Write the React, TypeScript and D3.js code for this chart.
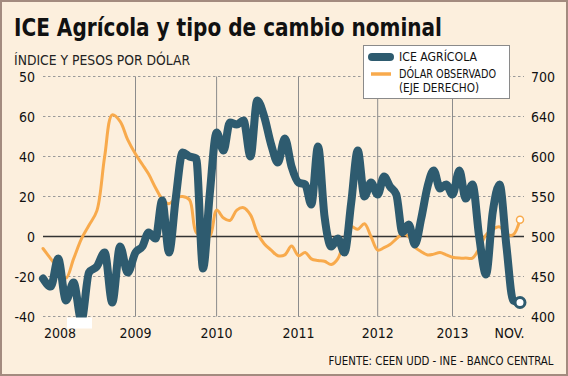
import React from "react";
import * as d3 from "d3";

const W = 568;
const H = 376;

// Monthly series, Jan 2008 .. Nov 2013
const startMonth = new Date(2008, 0, 1);
const iceValues = [
  -21, -25, -11, -32, -23, -42, -18, -15, -8, -33, -5, -18,
  -8, -5, 2, -1, 18, -8, 19, 42, 40, 39, -16, 21,
  52, 43, 57, 56, 58, 40, 68, 60, 46, 37, 49, 35,
  27, 26, 16, 45, 10, -5, -1, -8, 17, 43, 20, 27,
  21, 30, 25, 21, 2, 6, -4, 9, 25, 33, 24, 26,
  21, 33, 19, 26, 0, -19, 12, 26, -5, -32, -33,
];
const dollarValues = [
  485, 472, 460, 448, 472, 497, 514, 532, 600, 652, 644, 621,
  603, 590, 578, 561, 547, 541, 548, 550, 546, 505, 500, 500,
  533, 523, 520, 533, 536, 527, 505, 491, 483, 476, 477, 488,
  476, 480, 472, 470, 469, 465, 472, 495, 512, 509, 516, 500,
  483, 486, 490, 497, 503, 500, 487, 481, 477, 478, 480, 477,
  474, 473, 473, 473, 485, 502, 509, 512, 503, 502, 521,
];

const leftTicks = [-40, -20, 0, 20, 40, 60, 80];
const leftTickLabels = ["-40", "-20", "0", "20", "40", "60", "50"];
const rightTicks = [400, 450, 500, 550, 600, 650, 700];
const rightTickLabels = ["400", "450", "500", "550", "600", "640", "700"];
const yearLineDates = [2009, 2010, 2011, 2012, 2013].map((y) => new Date(y, 0, 1));
const xTickLabels = ["2008", "2009", "2010", "2011", "2012", "2013", "NOV."];
const xTickDates = [
  new Date(2008, 2, 8),
  new Date(2009, 0, 1),
  new Date(2010, 0, 1),
  new Date(2011, 0, 1),
  new Date(2012, 0, 1),
  new Date(2013, 0, 1),
  new Date(2013, 8, 15),
];

const BLUE = "#2e5b6f";
const ORANGE = "#f8aa4c";
const BG = "#fcefdd";
const FONT = "'DejaVu Sans Condensed', 'DejaVu Sans', sans-serif";

export default function App() {
  const dates = iceValues.map((_, i) => d3.timeMonth.offset(startMonth, i));

  const x = d3
    .scaleTime()
    .domain([
      new Date(2008, 0, 1),
      new Date(2009, 0, 1),
      new Date(2010, 0, 1),
      new Date(2011, 0, 1),
      new Date(2012, 0, 1),
      new Date(2013, 0, 1),
      new Date(2013, 10, 1),
    ])
    .range([43, 135.5, 216.6, 298.5, 377.7, 452.5, 520]);
  const yL = d3.scaleLinear().domain([-40, 80]).range([316.5, 76.5]);
  const yR = d3.scaleLinear().domain([400, 700]).range([316.5, 76.5]);

  const gridX0 = 43;
  const gridX1 = 524;

  const iceLine = d3
    .line<number>()
    .x((_, i) => x(dates[i]))
    .y((d) => yL(d))
    .curve(d3.curveMonotoneX);
  const dolLine = d3
    .line<number>()
    .x((_, i) => x(dates[i]))
    .y((d) => yR(d))
    .curve(d3.curveCatmullRom.alpha(0.5));

  const lastI = iceValues.length - 1;

  return (
    <>
      <style>{`body{margin:0} svg{display:block}`}</style>
      <svg width={W} height={H} style={{ fontFamily: FONT }}>
        <rect x={1} y={1} width={W - 2} height={H - 2} fill={BG} stroke="#a38b7f" strokeWidth={2} />

        <text x={14} y={36} fontSize={25} fontWeight="bold" fill="#111" textLength={428} lengthAdjust="spacingAndGlyphs">
          ICE Agrícola y tipo de cambio nominal
        </text>
        <text x={14} y={65} fontSize={14} fill="#222" textLength={176} lengthAdjust="spacingAndGlyphs">
          ÍNDICE Y PESOS POR DÓLAR
        </text>

        {/* grid */}
        {leftTicks.map((t) =>
          t === 0 ? null : (
            <line key={"g" + t} x1={gridX0} x2={gridX1} y1={yL(t)} y2={yL(t)} stroke="#9a9a9a" strokeWidth={1} strokeDasharray="2.5 2.5" />
          )
        )}
        {yearLineDates.map((d, i) => (
          <line key={"v" + i} x1={x(d)} x2={x(d)} y1={yL(80)} y2={yL(-40)} stroke="#8c8c8c" strokeWidth={1} />
        ))}
        <line x1={gridX0} x2={gridX1} y1={yL(0)} y2={yL(0)} stroke="#333" strokeWidth={1.3} />

        {/* axis labels */}
        {leftTicks.map((t, i) => (
          <text key={"l" + t} x={35} y={yL(t) + 5} fontSize={14} textAnchor="end" fill="#111">
            {leftTickLabels[i]}
          </text>
        ))}
        {rightTicks.map((t, i) => (
          <text key={"r" + t} x={531} y={yR(t) + 5} fontSize={14} textAnchor="start" fill="#111">
            {rightTickLabels[i]}
          </text>
        ))}
        {xTickDates.map((d, i) => (
          <text key={"x" + i} x={x(d)} y={338} fontSize={14} textAnchor="middle" fill="#111">
            {xTickLabels[i]}
          </text>
        ))}

        {/* series */}
        <path d={dolLine(dollarValues) || ""} fill="none" stroke={ORANGE} strokeWidth={3} strokeLinejoin="round" strokeLinecap="round" />
        <path d={iceLine(iceValues) || ""} fill="none" stroke={BLUE} strokeWidth={8} strokeLinejoin="round" strokeLinecap="round" />
        <circle cx={x(dates[lastI])} cy={yR(dollarValues[lastI])} r={3.5} fill="#fff" stroke={ORANGE} strokeWidth={1.5} />
        <circle cx={x(dates[lastI])} cy={yL(iceValues[lastI])} r={5} fill="#fff" stroke={BLUE} strokeWidth={3} />

        <rect x={67} y={317.5} width={25} height={11} fill="#fff" />

        {/* legend */}
        <rect x={363.5} y={45.5} width={146} height={53} fill="#fff" stroke="#8a8a8a" strokeWidth={1} />
        <line x1={372} x2={390} y1={57} y2={57} stroke={BLUE} strokeWidth={8} strokeLinecap="round" />
        <line x1={371} x2={391} y1={74} y2={74} stroke={ORANGE} strokeWidth={3.5} />
        <text x={399} y={61} fontSize={12.5} fill="#111" textLength={78} lengthAdjust="spacingAndGlyphs">
          ICE AGRÍCOLA
        </text>
        <text x={399} y={78} fontSize={12.5} fill="#111" textLength={97} lengthAdjust="spacingAndGlyphs">
          DÓLAR OBSERVADO
        </text>
        <text x={399} y={92} fontSize={12.5} fill="#111" textLength={80} lengthAdjust="spacingAndGlyphs">
          (EJE DERECHO)
        </text>

        <text x={328.5} y={364.5} fontSize={12} textAnchor="start" fill="#111" textLength={225} lengthAdjust="spacingAndGlyphs">
          FUENTE: CEEN UDD - INE - BANCO CENTRAL
        </text>
      </svg>
    </>
  );
}
